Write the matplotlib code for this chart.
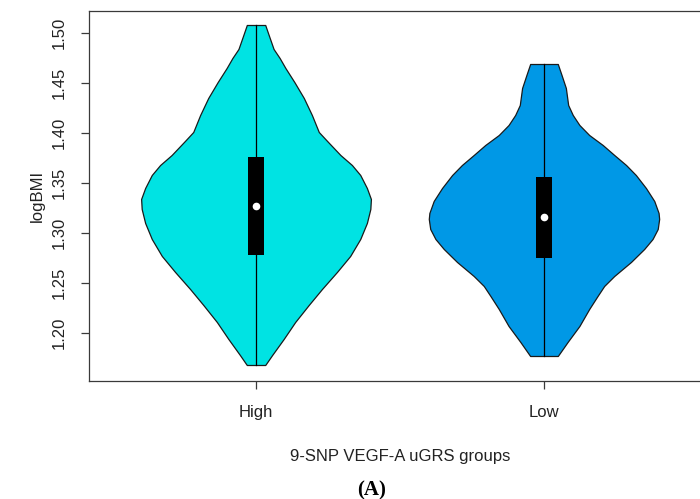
import matplotlib
matplotlib.use('Agg')

import matplotlib.pyplot as plt
import numpy as np

plt.rcParams['font.family'] = ['Liberation Sans', 'DejaVu Sans']

groups = ["High", "Low"]
colors = ["#00E3E3", "#0098E6"]

# violin outline: logBMI value -> half width
high_y = [1.508, 1.498, 1.484, 1.475, 1.465, 1.451, 1.435, 1.418, 1.401, 1.392, 1.378, 1.368, 1.358,
	1.345, 1.334, 1.324, 1.310, 1.294, 1.277, 1.261, 1.244, 1.228, 1.211, 1.194, 1.178, 1.168]
high_w = [0.032, 0.044, 0.061, 0.082, 0.102, 0.133, 0.166, 0.194, 0.218, 0.247, 0.293, 0.333, 0.362,
	0.385, 0.399, 0.397, 0.385, 0.362, 0.327, 0.281, 0.229, 0.183, 0.136, 0.096, 0.056, 0.032]

low_y = [1.469, 1.458, 1.445, 1.428, 1.418, 1.408, 1.398, 1.388, 1.378, 1.368, 1.358, 1.345, 1.332,
	1.320, 1.314, 1.304, 1.294, 1.284, 1.271, 1.257, 1.247, 1.237, 1.224, 1.207, 1.191, 1.177]
low_w = [0.048, 0.061, 0.076, 0.084, 0.100, 0.123, 0.157, 0.204, 0.244, 0.285, 0.319, 0.354, 0.383,
	0.398, 0.400, 0.395, 0.377, 0.348, 0.302, 0.244, 0.209, 0.186, 0.157, 0.123, 0.082, 0.048]

q1 = [1.278, 1.275]
q3 = [1.376, 1.356]
medians = [1.327, 1.316]

yticks = [1.20, 1.25, 1.30, 1.35, 1.40, 1.45, 1.50]


def draw_violin(ax, pos, ys, ws, col, lo, hi, med):
	ys = np.array(ys)
	ws = np.array(ws)
	ax.fill_betweenx(ys, pos - ws, pos + ws, facecolor=col, edgecolor='#1a1a1a', linewidth=0.9, zorder=2)
	ax.plot([pos, pos], [ys.min(), ys.max()], color='black', linewidth=0.9, zorder=3)
	ax.bar(pos, hi - lo, bottom=lo, width=0.055, color='black', zorder=4)
	ax.plot(pos, med, 'o', color='white', markersize=5.5, markeredgewidth=0, zorder=5)


fig = plt.figure(figsize=(7.0, 4.99), dpi=100)
ax = fig.add_axes([89 / 700, 118 / 499, 622 / 700, 370 / 499])

draw_violin(ax, 1, high_y, high_w, colors[0], q1[0], q3[0], medians[0])
draw_violin(ax, 2, low_y, low_w, colors[1], q1[1], q3[1], medians[1])

ax.set_xlim(0.42, 2.58)
ax.set_ylim(1.152, 1.522)

ax.set_xticks([1, 2])
ax.set_xticklabels(groups)
ax.set_yticks(yticks)
ax.set_yticklabels(["%.2f" % t for t in yticks], rotation=90, va='center')

for side in ax.spines:
	ax.spines[side].set_color('#3a3a3a')
	ax.spines[side].set_linewidth(0.9)

ax.tick_params(axis='both', length=6, width=0.9, color='#3a3a3a', labelsize=12, labelcolor='#222222')
ax.tick_params(axis='y', pad=10)
ax.tick_params(axis='x', pad=11)

ax.set_ylabel("logBMI", fontsize=12, color='#222222', labelpad=5)
ax.set_xlabel("9-SNP VEGF-A uGRS groups", fontsize=12, color='#222222', labelpad=21)

fig.text(372 / 700, 1 - 490 / 499, "(A)", family='Liberation Serif', weight='bold',
	fontsize=15, ha='center', va='center')

fig.savefig("out.png", dpi=100)
